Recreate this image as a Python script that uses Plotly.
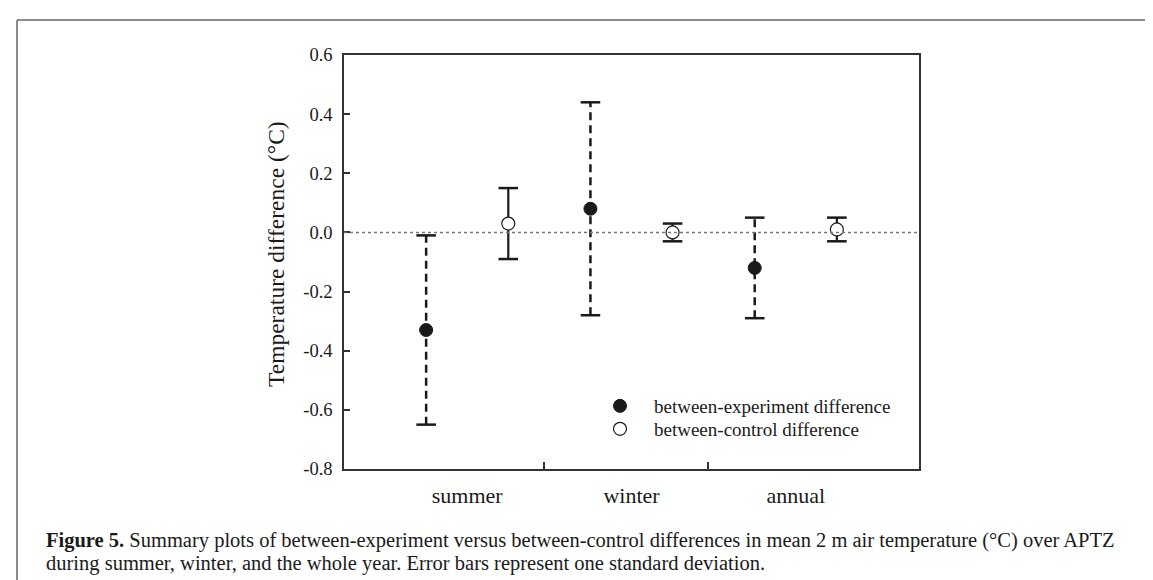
import plotly.graph_objects as go

# ---- data ----
categories = ["summer", "winter", "annual"]
exp_mean = [-0.33, 0.08, -0.12]
exp_sd = [0.32, 0.36, 0.17]
ctrl_mean = [0.03, 0.00, 0.01]
ctrl_sd = [0.12, 0.03, 0.04]
exp_name = "between-experiment difference"
ctrl_name = "between-control difference"
y_ticks = [-0.8, -0.6, -0.4, -0.2, 0.0, 0.2, 0.4, 0.6]
y_ticktext = ["-0.8", "-0.6", "-0.4", "-0.2", "0.0", "0.2", "0.4", "0.6"]
caption1 = ("<b>Figure 5.</b> Summary plots of between-experiment versus between-control "
            "differences in mean 2 m air temperature (°C) over APTZ")
caption2 = ("during summer, winter, and the whole year. Error bars represent one standard deviation.")

# x positions derived from category index
exp_x = [2 * i + 1 for i in range(len(categories))]
ctrl_x = [2 * i + 2 for i in range(len(categories))]
label_x = [2 * i + 1.5 for i in range(len(categories))]

FONT = "Liberation Serif"
INK = "#1a1a1a"


def bar_segments(xs, ms, sds):
    vx, vy = [], []
    for x, m, s in zip(xs, ms, sds):
        vx += [x, x, None]
        vy += [m - s, m + s, None]
    return vx, vy


def caps(xs, ms, sds):
    cx, cy = [], []
    for x, m, s in zip(xs, ms, sds):
        cx += [x, x]
        cy += [m - s, m + s]
    return cx, cy


fig = go.Figure()

# error bars: experiment (dashed)
vx, vy = bar_segments(exp_x, exp_mean, exp_sd)
fig.add_trace(go.Scatter(x=vx, y=vy, mode="lines", showlegend=False, hoverinfo="skip",
                         line=dict(color=INK, width=2.5, dash="8px,5px")))
cx, cy = caps(exp_x, exp_mean, exp_sd)
fig.add_trace(go.Scatter(x=cx, y=cy, mode="markers", showlegend=False, hoverinfo="skip",
                         marker=dict(symbol="line-ew", size=14, line=dict(color=INK, width=2.5))))
# error bars: control (solid)
vx, vy = bar_segments(ctrl_x, ctrl_mean, ctrl_sd)
fig.add_trace(go.Scatter(x=vx, y=vy, mode="lines", showlegend=False, hoverinfo="skip",
                         line=dict(color=INK, width=2.2)))
cx, cy = caps(ctrl_x, ctrl_mean, ctrl_sd)
fig.add_trace(go.Scatter(x=cx, y=cy, mode="markers", showlegend=False, hoverinfo="skip",
                         marker=dict(symbol="line-ew", size=14, line=dict(color=INK, width=2.5))))

# points
fig.add_trace(go.Scatter(x=exp_x, y=exp_mean, mode="markers", name=exp_name, legend="legend",
                         marker=dict(symbol="circle", size=13, color=INK,
                                     line=dict(color=INK, width=1))))
fig.add_trace(go.Scatter(x=ctrl_x, y=ctrl_mean, mode="markers", name=ctrl_name, legend="legend2",
                         marker=dict(symbol="circle", size=13, color="white",
                                     line=dict(color=INK, width=1.2))))

W, H = 1153, 580
L, R, T, B = 336, 1153 - 911, 47, 580 - 461
pw, ph = W - L - R, H - T - B


def px_x(p):
    return (p - L) / pw


def px_y(p):
    return (H - B - p) / ph


legend_common = dict(xanchor="left", yanchor="top", bgcolor="rgba(0,0,0,0)", borderwidth=0,
                     font=dict(family=FONT, size=19, color=INK), itemwidth=58, tracegroupgap=0)

fig.update_layout(
    width=W, height=H,
    margin=dict(l=L, r=R, t=T, b=B, pad=0),
    paper_bgcolor="white", plot_bgcolor="white",
    font=dict(family=FONT, color=INK, size=18),
    showlegend=True,
    legend=dict(x=px_x(578), y=px_y(379), **legend_common),
    legend2=dict(x=px_x(578), y=px_y(402), **legend_common),
    xaxis=dict(range=[0, 7], showgrid=False, zeroline=False,
               showline=True, mirror=True, linecolor="#333333", linewidth=1.5,
               tickmode="array", tickvals=label_x, ticktext=categories, ticks="",
               tickfont=dict(family=FONT, size=22, color=INK),
               ticklabelstandoff=6,
               minor=dict(tickmode="array", tickvals=[2.43, 4.43], ticks="inside",
                          ticklen=7, tickcolor="#333333", tickwidth=1.5, showgrid=False)),
    yaxis=dict(range=[-0.8, 0.6], showgrid=False, zeroline=False,
               showline=True, mirror=True, linecolor="#333333", linewidth=1.5,
               tickmode="array", tickvals=y_ticks, ticktext=y_ticktext,
               ticks="inside", ticklen=6, tickcolor="#333333", tickwidth=1.5,
               tickfont=dict(family=FONT, size=18.5, color=INK),
               ticklabelstandoff=6),
    shapes=[
        dict(type="line", xref="paper", yref="y", x0=0, x1=1, y0=0, y1=0,
             line=dict(color="#777777", width=1.5, dash="dot"), layer="above"),
        dict(type="line", xref="paper", yref="paper", x0=px_x(9), x1=px_x(1153),
             y0=px_y(12), y1=px_y(12), line=dict(color="#8c8c8c", width=2)),
        dict(type="line", xref="paper", yref="paper", x0=px_x(9), x1=px_x(9),
             y0=px_y(12), y1=px_y(580), line=dict(color="#8c8c8c", width=2)),
    ],
    annotations=[
        dict(text="Temperature difference (°C)", textangle=-90, showarrow=False,
             xref="paper", yref="paper", x=px_x(268), y=px_y(246),
             xanchor="center", yanchor="middle",
             font=dict(family=FONT, size=23.5, color=INK)),
        dict(text=caption1, showarrow=False, xref="paper", yref="paper",
             x=px_x(36), y=px_y(532), xanchor="left", yanchor="middle", align="left",
             font=dict(family=FONT, size=20.5, color=INK)),
        dict(text=caption2, showarrow=False, xref="paper", yref="paper",
             x=px_x(36), y=px_y(555), xanchor="left", yanchor="middle", align="left",
             font=dict(family=FONT, size=20.5, color=INK)),
    ],
)

fig.write_html("out.html")
